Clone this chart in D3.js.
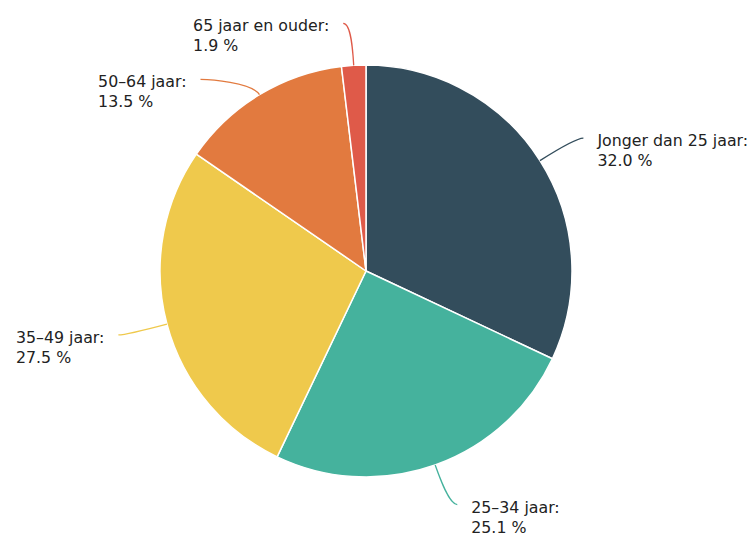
<!DOCTYPE html>
<html>
<head>
<meta charset="utf-8">
<script src="https://cdn.jsdelivr.net/npm/d3@7"></script>
<style>
  html, body { margin: 0; padding: 0; background: #fff; }
  svg { display: block; }
</style>
</head>
<body>
<svg id="chart" width="750" height="536"></svg>
<script>
// ---- data ----
const categories = ["Jonger dan 25 jaar", "25–34 jaar", "35–49 jaar", "50–64 jaar", "65 jaar en ouder"];
const values = [32.0, 25.1, 27.5, 13.5, 1.9];
const colors = ["#334D5C", "#45B29D", "#EFC94C", "#E27A3F", "#DF5A49"];

// ---- layout ----
const W = 750, H = 536;
const cx = 366, cy = 271, radius = 206;
const len1 = 42, len2 = 8, textGap = 14, lineH = 20, minGap = 56;

const svg = d3.select("#chart");
const g = svg.append("g").attr("transform", `translate(${cx},${cy})`);

const data = categories.map((c, i) => ({ name: c, value: values[i], color: colors[i] }));
const pie = d3.pie().sort(null).value(d => d.value).startAngle(0).endAngle(2 * Math.PI);
const arcs = pie(data);
const arc = d3.arc().innerRadius(0).outerRadius(radius);

g.selectAll("path.slice").data(arcs).join("path")
  .attr("class", "slice")
  .attr("d", arc)
  .attr("fill", d => d.data.color)
  .attr("stroke", "#fff")
  .attr("stroke-width", 1.5)
  .attr("stroke-linejoin", "round");

// label layout
const R = radius + len1;
const labels = arcs.map(a => {
  const mid = (a.startAngle + a.endAngle) / 2;
  const dx = Math.sin(mid), dy = -Math.cos(mid);
  return {
    a, mid, dx, dy,
    right: dx >= 0,
    start: [radius * dx, radius * dy],
    y: R * dy
  };
});

// push overlapping labels downward on each side
[true, false].forEach(side => {
  const items = labels.filter(l => l.right === side).sort((p, q) => p.y - q.y);
  for (let i = 1; i < items.length; i++) {
    if (items[i].y - items[i - 1].y < minGap) items[i].y = items[i - 1].y + minGap;
  }
});

labels.forEach(l => {
  const yy = Math.max(-R, Math.min(R, l.y));
  const xx = Math.sqrt(Math.max(0, R * R - yy * yy)) * (l.right ? 1 : -1);
  l.corner = [xx, yy];
  l.end = [xx + (l.right ? len2 : -len2), yy];
});

g.selectAll("path.leader").data(labels).join("path")
  .attr("class", "leader")
  .attr("fill", "none")
  .attr("stroke", l => l.a.data.color)
  .attr("stroke-width", 1.3)
  .attr("d", l => {
    const k = len1 * 0.35;
    const c1 = [l.start[0] + l.dx * k, l.start[1] + l.dy * k];
    const p = d3.path();
    p.moveTo(l.start[0], l.start[1]);
    p.bezierCurveTo(c1[0], c1[1], l.corner[0], l.corner[1], l.end[0], l.end[1]);
    return p.toString();
  });

const texts = g.selectAll("text.lbl").data(labels).join("text")
  .attr("class", "lbl")
  .attr("font-family", "'DejaVu Sans', Verdana, sans-serif")
  .attr("font-size", "15.8px")
  .attr("fill", "#222");

texts.each(function(l) {
  const t = d3.select(this);
  t.append("tspan").attr("class", "l1").text(l.a.data.name + ":");
  t.append("tspan").attr("class", "l2").text(l.a.data.value.toFixed(1) + " %");
  let maxW = 0;
  t.selectAll("tspan").each(function() { maxW = Math.max(maxW, this.getComputedTextLength()); });
  const x0 = l.right ? l.end[0] + textGap : l.end[0] - textGap - maxW;
  const y0 = l.end[1] + 8;
  t.select(".l1").attr("x", x0).attr("y", y0);
  t.select(".l2").attr("x", x0).attr("y", y0 + lineH);
});
</script>
</body>
</html>
